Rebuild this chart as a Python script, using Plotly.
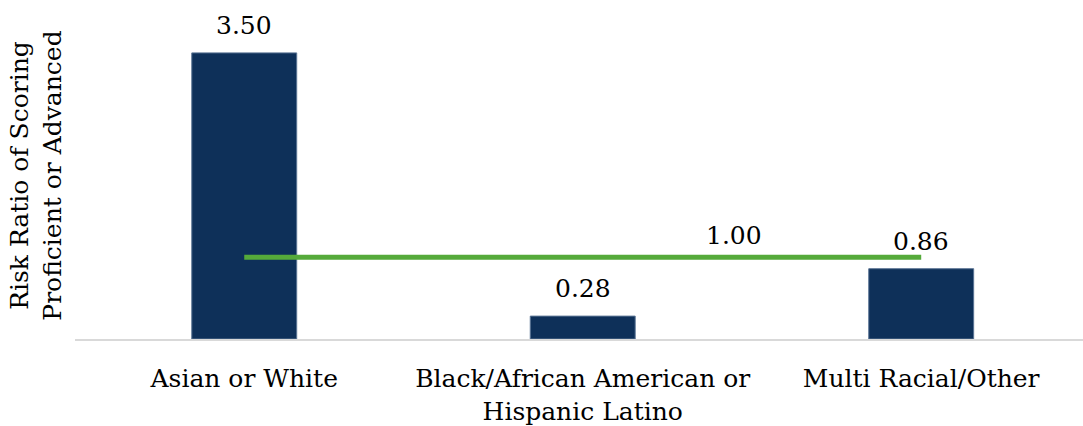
import plotly.graph_objects as go

categories = ["Asian or White", "Black/African American or<br>Hispanic Latino", "Multi Racial/Other"]
risk_ratio = [3.50, 0.28, 0.86]
reference_ratio = [1.00, 1.00, 1.00]

FONT = "DejaVu Serif"
SIZE = 25
NAVY = "#0E3059"
GREEN = "#55AA3A"

fig = go.Figure()

fig.add_trace(go.Bar(
    x=categories,
    y=risk_ratio,
    width=0.31,
    marker=dict(color=NAVY, line=dict(color="#5A7494", width=1)),
    hoverinfo="skip",
))

fig.add_trace(go.Scatter(
    x=categories,
    y=reference_ratio,
    mode="lines",
    line=dict(color=GREEN, width=5),
    hoverinfo="skip",
))

# value labels above each bar
for cat, val in zip(categories, risk_ratio):
    fig.add_annotation(
        x=cat, y=val,
        text=f"{val:.2f}",
        showarrow=False,
        yanchor="bottom",
        yshift=11,
        font=dict(family=FONT, size=SIZE, color="#000000"),
    )

# label for the reference line
fig.add_annotation(
    x=1.446, y=reference_ratio[1],
    text=f"{reference_ratio[1]:.2f}",
    showarrow=False,
    yanchor="bottom",
    yshift=5,
    font=dict(family=FONT, size=SIZE, color="#000000"),
)

fig.update_layout(
    width=1083, height=426,
    margin=dict(l=75, r=0, t=12, b=85),
    paper_bgcolor="white",
    plot_bgcolor="white",
    showlegend=False,
    font=dict(family=FONT, size=SIZE, color="#000000"),
)

fig.update_xaxes(
    range=[-0.5, 2.478],
    showline=True,
    linecolor="#D9D9D9",
    linewidth=2,
    ticks="",
    ticklabelstandoff=16,
    showgrid=False,
    tickfont=dict(family=FONT, size=SIZE, color="#000000"),
)

fig.update_yaxes(
    range=[0, 4],
    showticklabels=False,
    showgrid=False,
    zeroline=False,
    ticks="",
    title=dict(
        text="Risk Ratio of Scoring<br>Proficient or Advanced",
        font=dict(family=FONT, size=SIZE, color="#000000"),
        standoff=5,
    ),
)

fig.write_html("out.html")
